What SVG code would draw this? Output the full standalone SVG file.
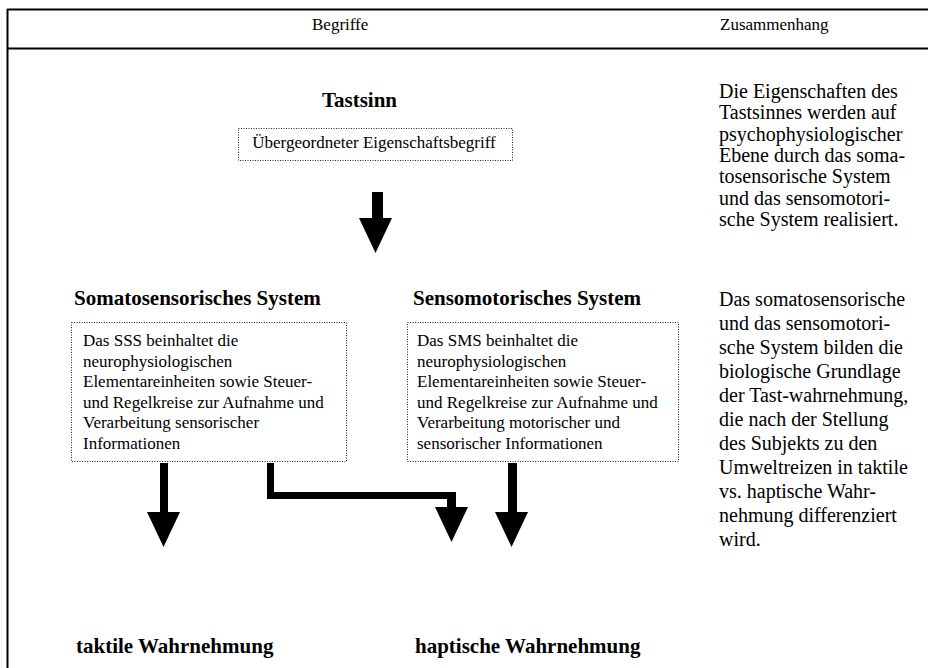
<svg xmlns="http://www.w3.org/2000/svg" width="928" height="668" viewBox="0 0 928 668">
<style>
  .t { font-family: "Liberation Serif", "Times New Roman", serif; fill: #000; }
  .hd { font-size: 17px; }
  .bt { font-size: 21px; font-weight: bold; }
  .bx { font-size: 17px; }
  .rc { font-size: 20px; }
  .frame { stroke: #000; stroke-width: 2; fill: none; }
  .dot { fill: none; stroke: #222; stroke-width: 1; stroke-dasharray: 1 1.5; }
  .arr { fill: #000; stroke: none; }
</style>
<rect width="928" height="668" fill="#fff"/>
<g id="frame">
  <line class="frame" x1="7" y1="9.5" x2="928" y2="9.5"/>
  <line class="frame" x1="7.5" y1="9" x2="7.5" y2="668"/>
  <line class="frame" x1="7" y1="48.5" x2="928" y2="48.5"/>
  <text class="t hd" x="312" y="30">Begriffe</text>
  <text class="t hd" x="720" y="30">Zusammenhang</text>
</g>
<g id="tastsinn">
  <text class="t bt" x="359.5" y="107" text-anchor="middle">Tastsinn</text>
  <rect class="dot" x="238.5" y="128.5" width="274" height="32"/>
  <text class="t bx" x="374" y="148" text-anchor="middle">Übergeordneter Eigenschaftsbegriff</text>
</g>
<g id="sss">
  <text class="t bt" x="74" y="305">Somatosensorisches System</text>
  <rect class="dot" x="71.5" y="322.5" width="275" height="139"/>
  <text class="t bx" x="83" y="346">Das SSS beinhaltet die</text>
  <text class="t bx" x="83" y="366.5">neurophysiologischen</text>
  <text class="t bx" x="83" y="387">Elementareinheiten sowie Steuer-</text>
  <text class="t bx" x="83" y="407.5">und Regelkreise zur Aufnahme und</text>
  <text class="t bx" x="83" y="428">Verarbeitung sensorischer</text>
  <text class="t bx" x="83" y="448.5">Informationen</text>
</g>
<g id="sms">
  <text class="t bt" x="413" y="305">Sensomotorisches System</text>
  <rect class="dot" x="407.5" y="322.5" width="271" height="139"/>
  <text class="t bx" x="417" y="346">Das SMS beinhaltet die</text>
  <text class="t bx" x="417" y="366.5">neurophysiologischen</text>
  <text class="t bx" x="417" y="387">Elementareinheiten sowie Steuer-</text>
  <text class="t bx" x="417" y="407.5">und Regelkreise zur Aufnahme und</text>
  <text class="t bx" x="417" y="428">Verarbeitung motorischer und</text>
  <text class="t bx" x="417" y="448.5">sensorischer Informationen</text>
</g>
<g id="taktil">
  <text class="t bt" x="76" y="653">taktile Wahrnehmung</text>
</g>
<g id="haptisch">
  <text class="t bt" x="415" y="653">haptische Wahrnehmung</text>
</g>
<g id="zusammenhang1">
  <text class="t rc" x="719" y="98">Die Eigenschaften des</text>
  <text class="t rc" x="719" y="119.3">Tastsinnes werden auf</text>
  <text class="t rc" x="719" y="140.6">psychophysiologischer</text>
  <text class="t rc" x="719" y="161.9">Ebene durch das soma-</text>
  <text class="t rc" x="719" y="183.2">tosensorische System</text>
  <text class="t rc" x="719" y="204.5">und das sensomotori-</text>
  <text class="t rc" x="719" y="225.8">sche System realisiert.</text>
</g>
<g id="zusammenhang2">
  <text class="t rc" x="719" y="306">Das somatosensorische</text>
  <text class="t rc" x="719" y="330">und das sensomotori-</text>
  <text class="t rc" x="719" y="354">sche System bilden die</text>
  <text class="t rc" x="719" y="378">biologische Grundlage</text>
  <text class="t rc" x="719" y="402">der Tast-wahrnehmung,</text>
  <text class="t rc" x="719" y="426">die nach der Stellung</text>
  <text class="t rc" x="719" y="450">des Subjekts zu den</text>
  <text class="t rc" x="719" y="474">Umweltreizen in taktile</text>
  <text class="t rc" x="719" y="498">vs. haptische Wahr-</text>
  <text class="t rc" x="719" y="522">nehmung differenziert</text>
  <text class="t rc" x="719" y="546">wird.</text>
</g>
<g id="connectors">
  <polygon class="arr" points="372,192 383,192 383,218 392,218 375.5,253 359,218 372,218"/>
  <polygon class="arr" points="160,463 168,463 168,512 180,512 163.5,547 147,512 160,512"/>
  <polygon class="arr" points="267,463 274,463 274,492 456,492 456,507 468,507 451.5,542 435,507 447,507 447,499 267,499"/>
  <polygon class="arr" points="508,463 517,463 517,512 528,512 511.5,547 495,512 508,512"/>
</g>
</svg>
